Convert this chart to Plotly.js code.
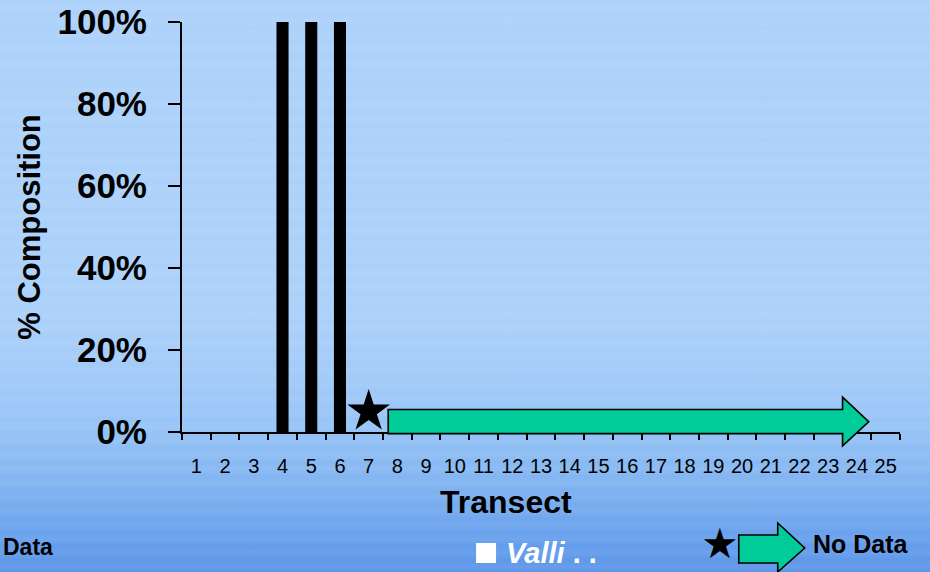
<!DOCTYPE html>
<html>
<head>
<meta charset="utf-8">
<script src="https://cdn.plot.ly/plotly-3.0.1.min.js"></script>
<style>
  html, body { margin:0; padding:0; width:930px; height:572px; overflow:hidden; }
  body {
    background:
      repeating-linear-gradient(to bottom, rgba(255,255,255,0) 0px, rgba(255,255,255,0.07) 7px, rgba(255,255,255,0) 14px),
      linear-gradient(to bottom, #acd1fa 0%, #abd0fa 55%, #a1caf8 66%, #95c3f6 75%, #84b6f2 83%, #6ea6ee 91%, #5a94e8 100%);
  }
  #chart { width:930px; height:572px; }
</style>
</head>
<body>
<div id="chart"></div>
<script>
// ---- data ----
var transects = [1,2,3,4,5,6,7,8,9,10,11,12,13,14,15,16,17,18,19,20,21,22,23,24,25];
var tickLabels = ['1','2','3','4','5','6','7','8','9','10','11','12','13','14','15','16','17','18','19','20','21','22','23','24','25'];
var valliComposition = [0,0,0,1,1,1,null,null,null,null,null,null,null,null,null,null,null,null,null,null,null,null,null,null,null];
var noDataStart = 7;      // star marker transect
var noDataArrowFrom = 7.68;
var noDataArrowTo = 24.41;
var yTickVals = [0,0.2,0.4,0.6,0.8,1];
var yTickText = ['0%','20%','40%','60%','80%','100%'];

// ---- layout geometry ----
var W = 930, H = 572;
var L = 181.6, R = 900.4, T = 22, B = 432;
function px(xp){ return (xp - L) / (R - L); }
function py(yp){ return (B - yp) / (B - T); }
var FONT = 'Liberation Sans, Arial, sans-serif';
var GREEN = '#00cc99';

var bars = {
  type:'bar', x: transects, y: valliComposition,
  marker:{color:'#000000', line:{width:0}}, width:0.42,
  hoverinfo:'x+y', showlegend:false
};
var star = {
  type:'scatter', mode:'markers', x:[noDataStart], y:[0.05],
  marker:{symbol:'star', size:32, color:'#000000', line:{width:0}},
  cliponaxis:false, showlegend:false, hoverinfo:'skip'
};

// arrow (no data): x on x-axis, y on paper (== data since range [0,1])
var ax0 = noDataArrowFrom, ax1 = 23.5, ax2 = noDataArrowTo;
var arrowPath = 'M'+ax0+',0.055 L'+ax1+',0.055 L'+ax1+',0.085 L'+ax2+',0.025 L'+ax1+',-0.034 L'+ax1+',-0.004 L'+ax0+',-0.004 Z';

// legend arrow in paper coords
var lx0 = px(739), lx1 = px(778), lx2 = px(805);
var legendArrow = 'M'+lx0+','+py(535)+' L'+lx1+','+py(535)+' L'+lx1+','+py(523)+' L'+lx2+','+py(548)+' L'+lx1+','+py(572)+' L'+lx1+','+py(563)+' L'+lx0+','+py(563)+' Z';

var layout = {
  width:W, height:H,
  margin:{l:L, r:W-R, t:T, b:H-B, pad:0},
  paper_bgcolor:'rgba(0,0,0,0)', plot_bgcolor:'rgba(0,0,0,0)',
  font:{family:FONT, color:'#000000'},
  showlegend:false,
  xaxis:{
    type:'linear', range:[0.5,25.5], fixedrange:true,
    tickmode:'array', tickvals:transects, ticktext:tickLabels,
    ticks:'', showgrid:false, zeroline:false,
    showline:true, linecolor:'#000000', linewidth:2,
    tickfont:{family:FONT, size:20, color:'#000000'},
    ticklabelstandoff:15,
    minor:{ticks:'outside', tickmode:'linear', tick0:0.5, dtick:1, ticklen:6, tickwidth:2, tickcolor:'#000000', showgrid:false}
  },
  yaxis:{
    range:[0,1], fixedrange:true,
    tickmode:'array', tickvals:yTickVals, ticktext:yTickText,
    ticks:'outside', ticklen:12, tickwidth:2, tickcolor:'#000000',
    showgrid:false, zeroline:false,
    showline:true, linecolor:'#000000', linewidth:2,
    tickfont:{family:FONT, size:35, color:'#000000', weight:'bold'},
    ticklabelstandoff:14,
    title:{text:'% Composition', standoff:8, font:{family:FONT, size:31, color:'#000000', weight:'bold'}}
  },
  shapes:[
    {type:'path', xref:'x', yref:'paper', path:arrowPath, fillcolor:GREEN, line:{color:'#000000', width:1.6}, layer:'above'},
    {type:'path', xref:'paper', yref:'paper', path:legendArrow, fillcolor:GREEN, line:{color:'#000000', width:1.6}, layer:'above'},
    {type:'rect', xref:'paper', yref:'paper', x0:px(476), x1:px(496), y0:py(563), y1:py(543), fillcolor:'#ffffff', line:{width:0}}
  ],
  annotations:[
    {xref:'paper', yref:'paper', x:px(506), y:py(502), xanchor:'center', yanchor:'middle', showarrow:false,
     text:'Transect', font:{family:FONT, size:32, color:'#000000', weight:'bold'}},
    {xref:'paper', yref:'paper', x:px(0), y:py(547), xanchor:'left', yanchor:'middle', showarrow:false,
     text:'Data', font:{family:FONT, size:23, color:'#000000', weight:'bold'}},
    {xref:'paper', yref:'paper', x:px(504), y:py(553), xanchor:'left', yanchor:'middle', showarrow:false,
     text:'<i>Valli</i> . .', font:{family:FONT, size:29, color:'#ffffff', weight:'bold'}},
    {xref:'paper', yref:'paper', x:px(720), y:py(543), xanchor:'center', yanchor:'middle', showarrow:false,
     text:'★', font:{family:'DejaVu Sans', size:42, color:'#000000'}},
    {xref:'paper', yref:'paper', x:px(811), y:py(544), xanchor:'left', yanchor:'middle', showarrow:false,
     text:'No Data', font:{family:FONT, size:25, color:'#000000', weight:'bold'}}
  ]
};

Plotly.newPlot('chart', [bars, star], layout, {displayModeBar:false, staticPlot:true});
</script>
</body>
</html>
